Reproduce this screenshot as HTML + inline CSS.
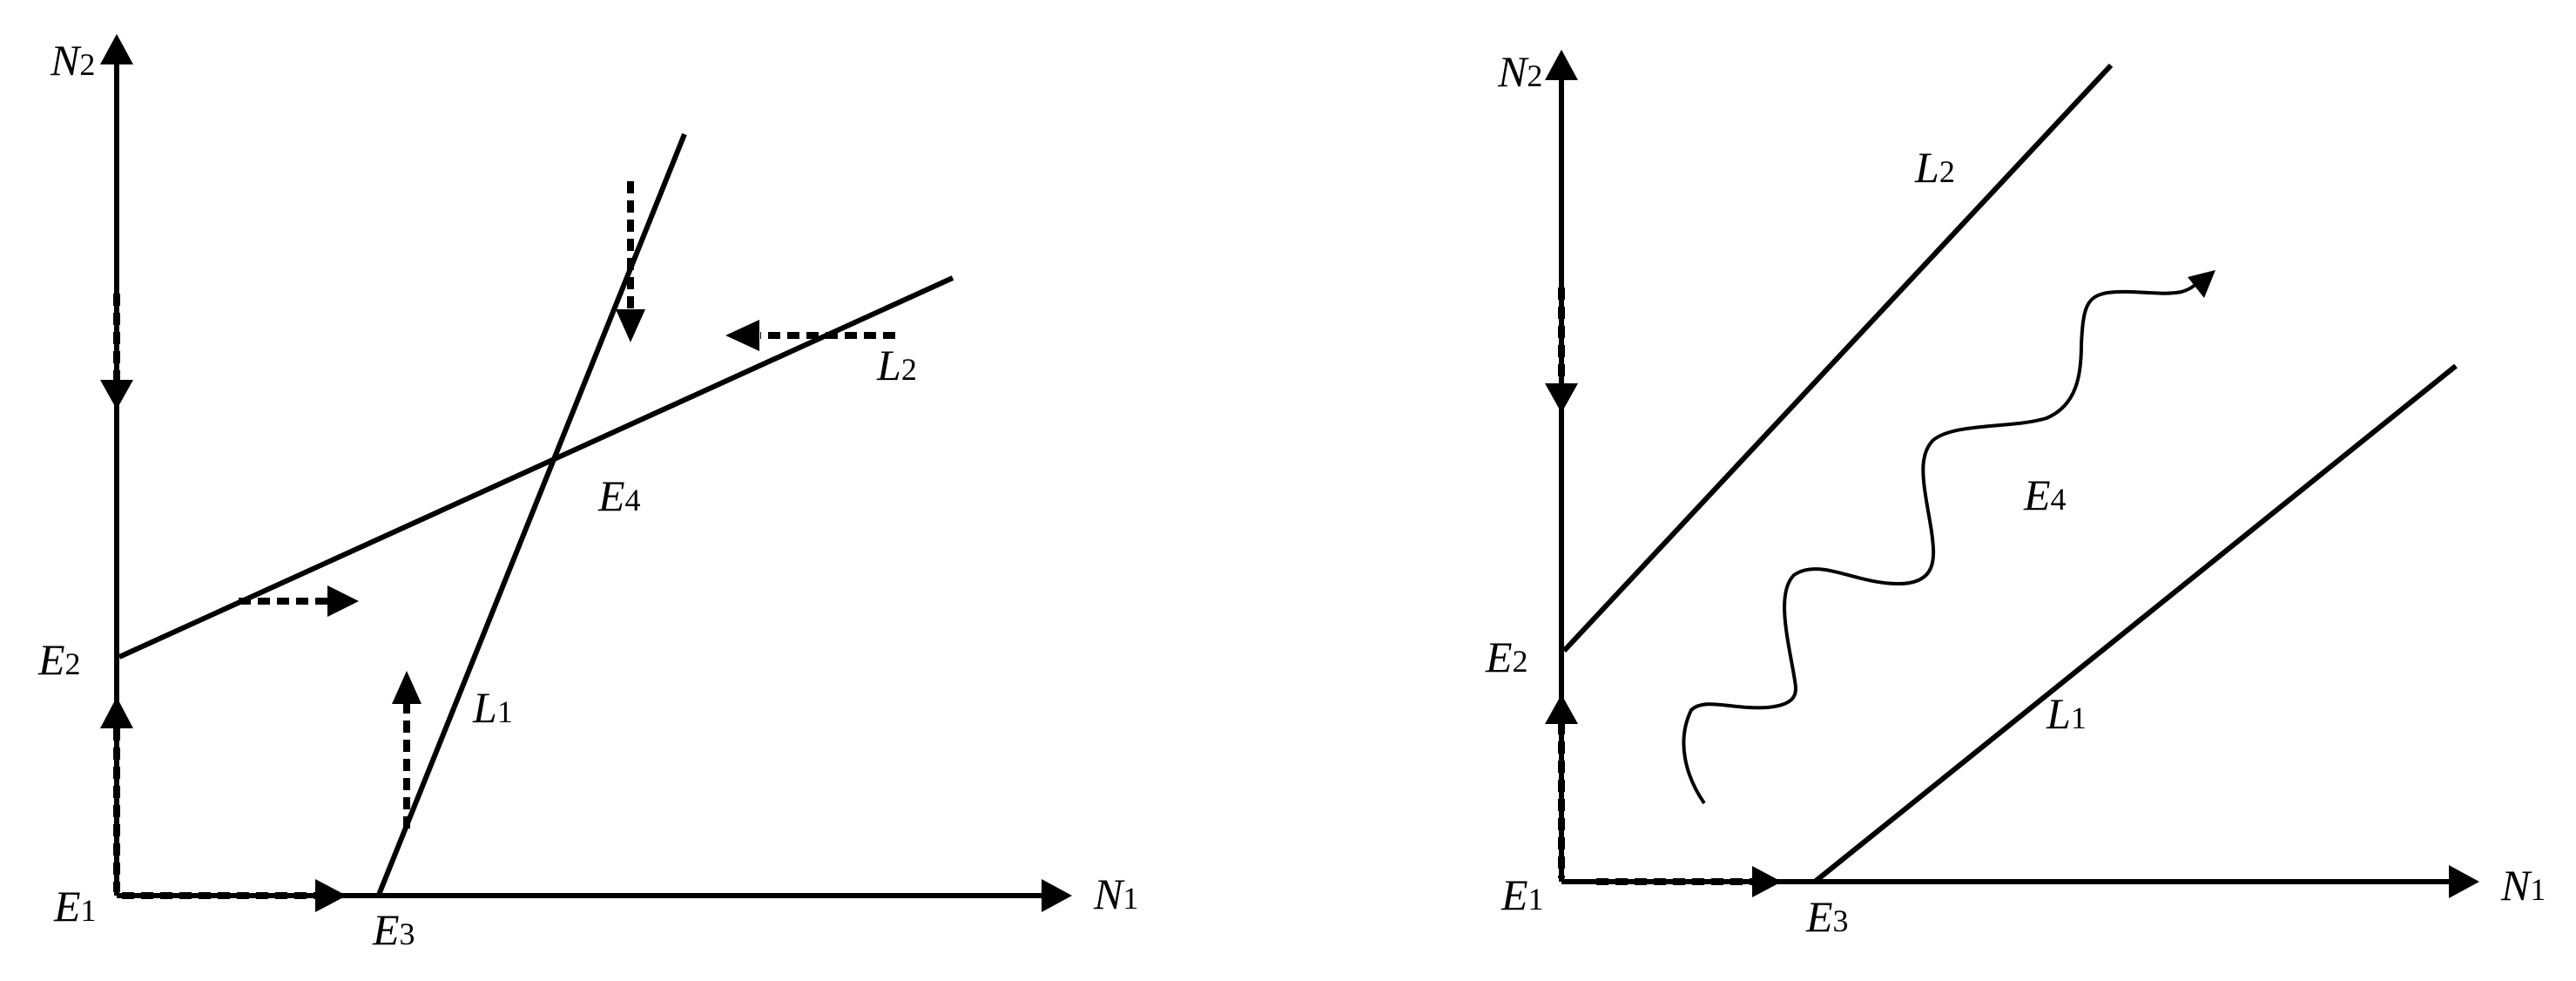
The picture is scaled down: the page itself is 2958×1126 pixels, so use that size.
<!DOCTYPE html>
<html><head><style>
html,body{margin:0;padding:0;background:#fff;}
svg{display:block;}
text{font-family:"Liberation Serif","DejaVu Serif",serif;font-size:50px;fill:#000;}
tspan{font-family:"Liberation Serif","DejaVu Serif",serif;}
.i{font-style:italic;}
.s{font-size:36px;font-style:normal;}
</style></head><body>
<svg width="2958" height="1126" viewBox="0 0 2958 1126" xmlns="http://www.w3.org/2000/svg">
<g stroke="#000" stroke-width="6" fill="none" stroke-linecap="butt">
<line x1="134" y1="1028" x2="134" y2="70"/>
<line x1="134" y1="1028" x2="1200" y2="1028"/>
<line x1="137" y1="754" x2="1094" y2="319"/>
<line x1="435" y1="1027" x2="786" y2="154"/>
<g stroke-dasharray="14,8" stroke-width="8">
<line x1="134" y1="337" x2="134" y2="440"/>
<line x1="134" y1="836" x2="134" y2="1024"/>
<line x1="140" y1="1028" x2="364" y2="1028"/>
<line x1="274" y1="690" x2="379" y2="690"/>
<line x1="467" y1="951" x2="467" y2="808"/>
<line x1="724" y1="208" x2="724" y2="357"/>
<line x1="1028" y1="385" x2="873" y2="385"/>
</g>
<line x1="1793" y1="1012" x2="1793" y2="88"/>
<line x1="1793" y1="1012" x2="2815" y2="1012"/>
<line x1="1796" y1="747" x2="2424" y2="75"/>
<line x1="2084" y1="1012" x2="2820" y2="420"/>
<g stroke-dasharray="14,8" stroke-width="8">
<line x1="1793" y1="330" x2="1793" y2="443"/>
<line x1="1793" y1="829" x2="1793" y2="1008"/>
<line x1="1833" y1="1012" x2="2015" y2="1012"/>
</g>
<path stroke-width="4" d="M1957,922 C1935,890 1925,850 1942,815 C1958,800 1990,815 2030,812 C2070,808 2062,790 2060,775 C2052,730 2040,680 2060,660 C2090,640 2130,670 2180,670 C2225,670 2222,640 2218,610 C2210,560 2200,525 2220,505 C2245,485 2310,492 2350,480 C2385,465 2390,430 2390,395 C2392,355 2395,340 2420,336 C2450,332 2480,340 2505,335 C2515,332 2520,328 2526,322"/>
</g>
<g fill="#000">
<polygon points="134,39 115,74 153,74"/>
<polygon points="1231,1028 1196,1009 1196,1047"/>
<polygon points="134,470 115,436 153,436"/>
<polygon points="134,800 115,836 153,836"/>
<polygon points="398,1028 362,1009 362,1047"/>
<polygon points="412,690 376,672 376,708"/>
<polygon points="467,770 450,808 484,808"/>
<polygon points="724,393 707,355 741,355"/>
<polygon points="833,385 872,367 872,403"/>
<polygon points="1793,57 1774,92 1812,92"/>
<polygon points="2847,1012 2812,993 2812,1031"/>
<polygon points="1793,474 1774,440 1812,440"/>
<polygon points="1793,797 1774,831 1812,831"/>
<polygon points="2046,1012 2012,994 2012,1030"/>
<polygon points="2544,310 2512,318 2531,342"/>
</g>
<g font-family="Liberation Serif, DejaVu Serif, serif">
<text x="58" y="86"><tspan class="i">N</tspan><tspan class="s">2</tspan></text>
<text x="1256" y="1043"><tspan class="i">N</tspan><tspan class="s">1</tspan></text>
<text x="62" y="1057"><tspan class="i">E</tspan><tspan class="s">1</tspan></text>
<text x="44" y="774"><tspan class="i">E</tspan><tspan class="s">2</tspan></text>
<text x="428" y="1084"><tspan class="i">E</tspan><tspan class="s">3</tspan></text>
<text x="687" y="586"><tspan class="i">E</tspan><tspan class="s">4</tspan></text>
<text x="543" y="829"><tspan class="i">L</tspan><tspan class="s">1</tspan></text>
<text x="1007" y="436"><tspan class="i">L</tspan><tspan class="s">2</tspan></text>
<text x="1720" y="99"><tspan class="i">N</tspan><tspan class="s">2</tspan></text>
<text x="2872" y="1033"><tspan class="i">N</tspan><tspan class="s">1</tspan></text>
<text x="1724" y="1044"><tspan class="i">E</tspan><tspan class="s">1</tspan></text>
<text x="1706" y="771"><tspan class="i">E</tspan><tspan class="s">2</tspan></text>
<text x="2074" y="1069"><tspan class="i">E</tspan><tspan class="s">3</tspan></text>
<text x="2324" y="585"><tspan class="i">E</tspan><tspan class="s">4</tspan></text>
<text x="2350" y="836"><tspan class="i">L</tspan><tspan class="s">1</tspan></text>
<text x="2199" y="209"><tspan class="i">L</tspan><tspan class="s">2</tspan></text>
</g>
</svg>
</body></html>
